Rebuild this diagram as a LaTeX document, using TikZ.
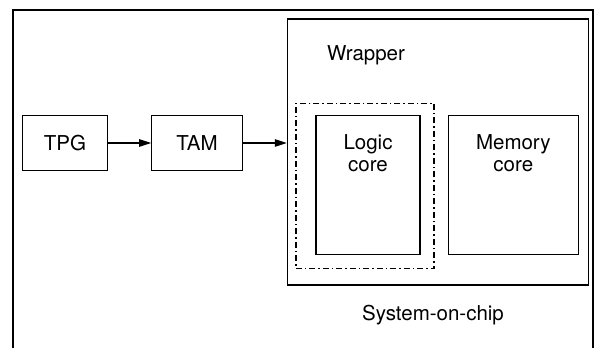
\documentclass[tikz,border=0pt]{standalone}
\usepackage{fontspec}
\setmainfont{TeX Gyre Heros}
\usetikzlibrary{arrows.meta}
\begin{document}
\begin{tikzpicture}[x=1pt,y=-1pt,
  every node/.style={font=\fontsize{20.5}{22}\selectfont, inner sep=0pt},
  blk/.style={draw, line width=1.1pt, rectangle},
  dashdot/.style={draw, line width=1.5pt, dash pattern=on 6pt off 3pt on 1.5pt off 3pt},
  conn/.style={line width=1.1pt, -{Triangle[length=12pt,width=7.5pt]}}]
\useasboundingbox (0,0) rectangle (600,358);

% System-on-chip outline (open at the bottom)
\draw[line width=1.2pt] (13,348) -- (13,10) -- (593,10) -- (593,348);

% Test pattern generator and access mechanism
\node[blk, minimum width=84.6pt, minimum height=54.3pt] (tpg) at (65,143) {TPG};
\node[blk, minimum width=90.6pt, minimum height=54.3pt] (tam) at (197,143) {TAM};

% Wrapper with its cores
\node[blk, minimum width=301pt, minimum height=266pt] (wrapper) at (437.8,152) {};
\node[anchor=center] (wraplbl) at (366,55) {Wrapper};
\node[dashdot, rectangle, minimum width=138.3pt, minimum height=165.4pt] (wrapbnd) at (364.9,186) {};
\node[blk, minimum width=104pt, minimum height=138.6pt] (logic) at (368,185) {};
\node[blk, minimum width=130pt, minimum height=138.6pt] (memory) at (513.3,185) {};
\node[align=center, anchor=north] (logiclbl) at ([yshift=-19pt]logic.north) {Logic\\core};
\node[align=center, anchor=north] (memlbl) at ([yshift=-19pt]memory.north) {Memory\\core};

\node (soclbl) at (433,315) {System-on-chip};

% Connectors
\draw[conn] (tpg) -- (tam);
\draw[conn] (tam.east) -- (tam.east -| wrapper.west);
\end{tikzpicture}
\end{document}
